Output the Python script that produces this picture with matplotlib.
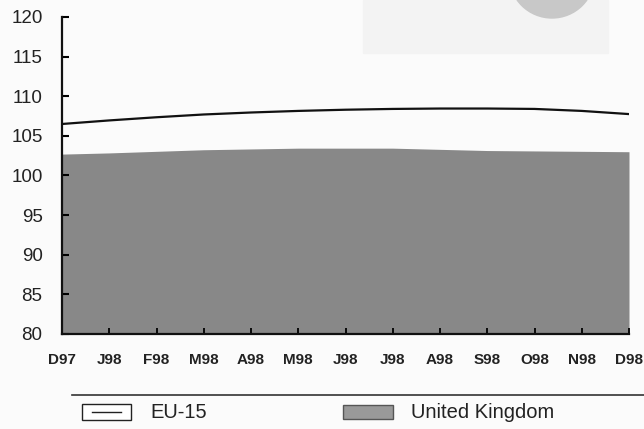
import numpy as np
import matplotlib
matplotlib.use('Agg')
import matplotlib.pyplot as plt
from matplotlib.patches import Rectangle, Ellipse
from matplotlib.lines import Line2D

months = ['D97', 'J98', 'F98', 'M98', 'A98', 'M98', 'J98',
          'J98', 'A98', 'S98', 'O98', 'N98', 'D98']
eu15 = [106.5, 106.95, 107.35, 107.7, 107.95, 108.15, 108.3,
        108.4, 108.45, 108.45, 108.4, 108.15, 107.75]
uk = [102.7, 102.85, 103.05, 103.25, 103.35, 103.45, 103.45,
      103.45, 103.3, 103.15, 103.1, 103.05, 103.0]
yticks = [80, 85, 90, 95, 100, 105, 110, 115, 120]

plt.rcParams['font.family'] = ['Liberation Sans', 'DejaVu Sans']

W, H = 644, 429
fig = plt.figure(figsize=(W / 100, H / 100), dpi=100, facecolor='#fbfbfb')

# faint scan patches in the top right
fig.patches.append(Rectangle((363 / W, 1 - 53 / H), 245 / W, 53 / H,
                             transform=fig.transFigure, color='#f3f3f3', zorder=0))
fig.patches.append(Ellipse((552 / W, 1 + 24 / H), 85 / W, 84 / H,
                           transform=fig.transFigure, color='#c8c8c8', zorder=0))

ax = fig.add_axes([62 / W, 1 - 334 / H, (629 - 62) / W, (334 - 17) / H])
ax.set_facecolor('none')
x = np.arange(len(months))

ax.fill_between(x, 80, uk, color='#888888', linewidth=0)
ax.plot(x, eu15, color='#111111', linewidth=1.6)

ax.set_xlim(0, 12.0)
ax.set_ylim(80, 120)
ax.set_yticks(yticks)
ax.set_yticklabels([str(v) for v in yticks], fontsize=13.5, color='#222222')
ax.set_xticks(x)
ax.set_xticklabels(months, fontsize=11, fontweight='bold', color='#222222')

for s in ['top', 'right']:
    ax.spines[s].set_visible(False)
for s in ['left', 'bottom']:
    ax.spines[s].set_linewidth(1.6)
    ax.spines[s].set_color('#111111')
ax.tick_params(axis='y', direction='in', length=5, width=1.5, pad=14)
ax.tick_params(axis='x', direction='in', length=4, width=1.3, pad=14)

# legend built by hand below the chart
fig.lines.append(Line2D([72 / W, 1.0], [1 - 395 / H, 1 - 395 / H],
                        transform=fig.transFigure, color='#333333', linewidth=1.2))
fig.patches.append(Rectangle((82 / W, 1 - 420 / H), 49 / W, 16 / H,
                             transform=fig.transFigure, facecolor='white',
                             edgecolor='#222222', linewidth=1.0))
fig.lines.append(Line2D([92 / W, 121 / W], [1 - 412 / H, 1 - 412 / H],
                        transform=fig.transFigure, color='#222222', linewidth=1.0))
fig.text(150 / W, 1 - 412 / H, 'EU-15', fontsize=14.5, va='center', ha='left',
         color='#222222')
fig.patches.append(Rectangle((343 / W, 1 - 419 / H), 50 / W, 14 / H,
                             transform=fig.transFigure, facecolor='#999999',
                             edgecolor='#555555', linewidth=1.0))
fig.text(411 / W, 1 - 412 / H, 'United Kingdom', fontsize=14.5, va='center',
         ha='left', color='#222222')

fig.savefig('out.png', dpi=100, facecolor=fig.get_facecolor())
